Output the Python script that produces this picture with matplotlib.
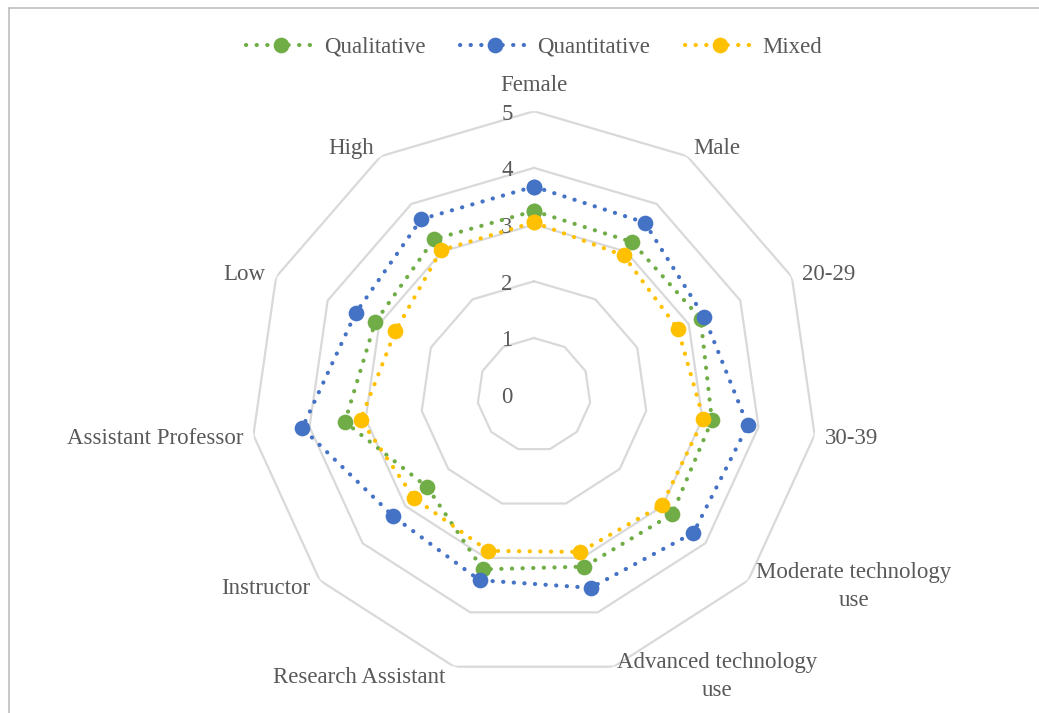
import numpy as np
import matplotlib
matplotlib.use("Agg")
import matplotlib.pyplot as plt
from matplotlib.lines import Line2D
from matplotlib.transforms import offset_copy

categories = ["Female", "Male", "20-29", "30-39", "Moderate technology\nuse",
              "Advanced technology\nuse", "Research Assistant", "Instructor",
              "Assistant Professor", "Low", "High"]
qualitative = [3.24, 3.20, 3.23, 3.17, 3.22, 3.16, 3.21, 2.49, 3.37, 3.08, 3.26]
quantitative = [3.67, 3.61, 3.30, 3.81, 3.72, 3.55, 3.41, 3.28, 4.13, 3.46, 3.68]
mixed = [3.04, 2.92, 2.79, 3.02, 2.98, 2.89, 2.87, 2.79, 3.09, 2.69, 3.03]
series_names = ["Qualitative", "Quantitative", "Mixed"]
levels = [0, 1, 2, 3, 4, 5]

colors = ["#70AD47", "#4472C4", "#FFC000"]
text_color = "#595959"
grid_color = "#D9D9D9"
FONT = "Liberation Serif"
FS = 16.5

W, H = 1039, 713
fig = plt.figure(figsize=(W / 100, H / 100), dpi=100)

cx, cy, R = 534, 394.7, 283.5
ax = fig.add_axes([(cx - R) / W, (H - cy - R) / H, 2 * R / W, 2 * R / H], polar=True)
ax.set_theta_offset(np.pi / 2)
ax.set_theta_direction(-1)
ax.set_ylim(0, 5)
ax.grid(False)
ax.spines["polar"].set_visible(False)
ax.set_xticks([])
ax.set_yticks([])
ax.patch.set_alpha(0)

n = len(categories)
theta = np.arange(n) * 2 * np.pi / n
theta_c = np.append(theta, theta[0])

# polygon grid
for lv in levels[1:]:
    ax.plot(theta_c, [lv] * (n + 1), color=grid_color, lw=1.6, zorder=1)

# radial tick labels
tl = offset_copy(ax.transData, fig=fig, x=-27, y=-3, units="dots")
for lv in levels:
    ax.text(0, lv, str(lv), transform=tl, ha="center", va="center",
            fontsize=FS, color=text_color, family=FONT)

# category labels with pixel offsets
label_cfg = [
    ("center", 0, 26), ("left", 6, 8), ("left", 10, 2), ("left", 10, -3),
    ("left", 8, -6), ("left", 3, -10), ("right", -9, -11), ("right", -9, -8),
    ("right", -10, -3), ("right", -11, 2), ("right", -7, 8),
]
for t, lab, (ha, dx, dy) in zip(theta, categories, label_cfg):
    tr = offset_copy(ax.transData, fig=fig, x=dx, y=dy, units="dots")
    ax.text(t, 5, lab, transform=tr, ha=ha, va="center", multialignment="center",
            fontsize=FS, color=text_color, family=FONT, linespacing=1.45)

handles = []
for name, vals, col in zip(series_names, [qualitative, quantitative, mixed], colors):
    v = np.append(vals, vals[0])
    ln, = ax.plot(theta_c, v, color=col, lw=3.0, linestyle=(0, (0.05, 2.5)),
                  dash_capstyle="round", marker="o", markersize=11.3,
                  markeredgewidth=0, zorder=3, label=name)
    handles.append(ln)

leg = fig.legend(handles=handles, loc="center", bbox_to_anchor=(0.514, 1 - 47 / H),
                 ncol=3, frameon=False, handlelength=3.1, columnspacing=1.5,
                 handletextpad=0.3, prop={"family": FONT, "size": FS})
for t in leg.get_texts():
    t.set_color(text_color)

# chart area border (top and left visible)
fig.add_artist(Line2D([9 / W, 1], [1 - 8 / H, 1 - 8 / H], transform=fig.transFigure,
                      color="#BFBFBF", lw=1.2))
fig.add_artist(Line2D([9 / W, 9 / W], [0, 1 - 8 / H], transform=fig.transFigure,
                      color="#BFBFBF", lw=1.2))

fig.savefig("out.png", dpi=100, facecolor="white")
